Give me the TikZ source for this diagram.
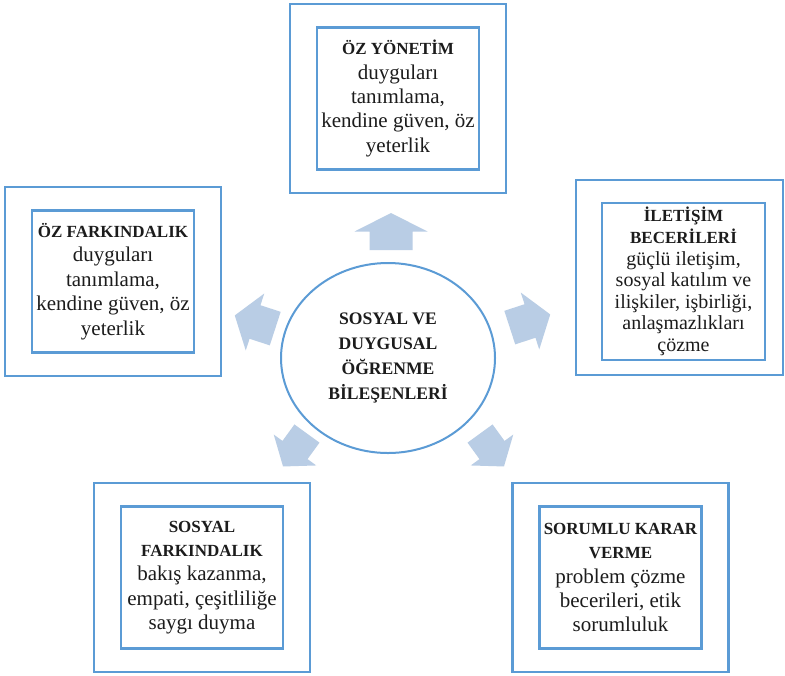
\documentclass[tikz,border=0pt]{standalone}
\usepackage{fontspec}
\setmainfont{Liberation Serif}
\usetikzlibrary{shapes.geometric, positioning}
\definecolor{frameblue}{RGB}{91,155,213}
\definecolor{arrowblue}{RGB}{185,205,229}
\definecolor{textgray}{RGB}{28,28,28}
\newcommand{\boxhead}[1]{{\fontsize{8.5}{12}\selectfont\bfseries #1}}
\tikzset{
    fatarrow/.pic={
        % Block arrow, pointing along +x
        \fill[arrowblue] (-18.5,-21.5) -- (0,-21.5) -- (0,-36.5) -- (18.5,0)
            -- (0,36.5) -- (0,21.5) -- (-18.5,21.5) -- cycle;
    },
    outerbox/.style={draw=frameblue, line width=1.4pt, minimum width=108pt, minimum height=94.5pt, inner sep=0pt},
    innerbox/.style={draw=frameblue, line width=1.2pt, minimum width=81pt, minimum height=71pt, inner sep=1pt, align=center, text=textgray, font=\fontsize{10.5}{12.2}\selectfont},
    hub/.style={ellipse, draw=frameblue, line width=1pt, minimum width=107pt, minimum height=95pt, align=center, text=textgray, font=\fontsize{8.8}{12.5}\selectfont\bfseries},
}

\begin{document}
\begin{tikzpicture}[x=0.5pt, y=-0.5pt]

    \path[use as bounding box, fill=white] (0,0) rectangle (785,675);

    % Centre
    \node[hub] (sel) at (388,358) {SOSYAL VE\\ DUYGUSAL\\ ÖĞRENME\\ BİLEŞENLERİ};

    % Arrows round the centre
    \pic[rotate=90] (arrtop) at (391,231.5) {fatarrow};
    \pic[rotate=162, xscale=1.15, yscale=0.82] (arrleft) at (255,322) {fatarrow};
    \pic[rotate=18, xscale=1.15, yscale=0.82] (arrright) at (530,321) {fatarrow};
    \pic[rotate=234, xscale=1.1, yscale=0.72] (arrbl) at (295,450) {fatarrow};
    \pic[rotate=306, xscale=1.1, yscale=0.72] (arrbr) at (492,450) {fatarrow};

    % Outer frames
    \node[outerbox] (oztop) at (398,98.5) {};
    \node[outerbox] (ozleft) at (113,281.5) {};
    \node[outerbox, minimum width=103.5pt, minimum height=97.5pt] (ilet) at (679.5,277.5) {};
    \node[outerbox] (sosyal) at (202,577.5) {};
    \node[outerbox] (karar) at (620.5,577.5) {};

    % Inner boxes with the texts
    \node[innerbox] (oztopin) at (oztop.center)
        {\boxhead{ÖZ YÖNETİM}\\ duyguları\\ tanımlama,\\ kendine güven, öz\\ yeterlik};
    \node[innerbox] (ozleftin) at (ozleft.center)
        {\boxhead{ÖZ FARKINDALIK}\\ duyguları\\ tanımlama,\\ kendine güven, öz\\ yeterlik};
    \node[innerbox, minimum width=81.5pt, minimum height=78.5pt, font=\fontsize{10}{10.8}\selectfont] (iletin) at (683.5,281.5)
        {\boxhead{İLETİŞİM}\\ \boxhead{BECERİLERİ}\\ güçlü iletişim,\\ sosyal katılım ve\\ ilişkiler, işbirliği,\\ anlaşmazlıkları\\ çözme};
    \node[innerbox] (sosyalin) at (sosyal.center)
        {\boxhead{SOSYAL}\\ \boxhead{FARKINDALIK}\\ bakış kazanma,\\ empati, çeşitliliğe\\ saygı duyma};
    \node[innerbox] (kararin) at (karar.center)
        {\boxhead{SORUMLU KARAR}\\ \boxhead{VERME}\\ problem çözme\\ becerileri, etik\\ sorumluluk};

\end{tikzpicture}
\end{document}
